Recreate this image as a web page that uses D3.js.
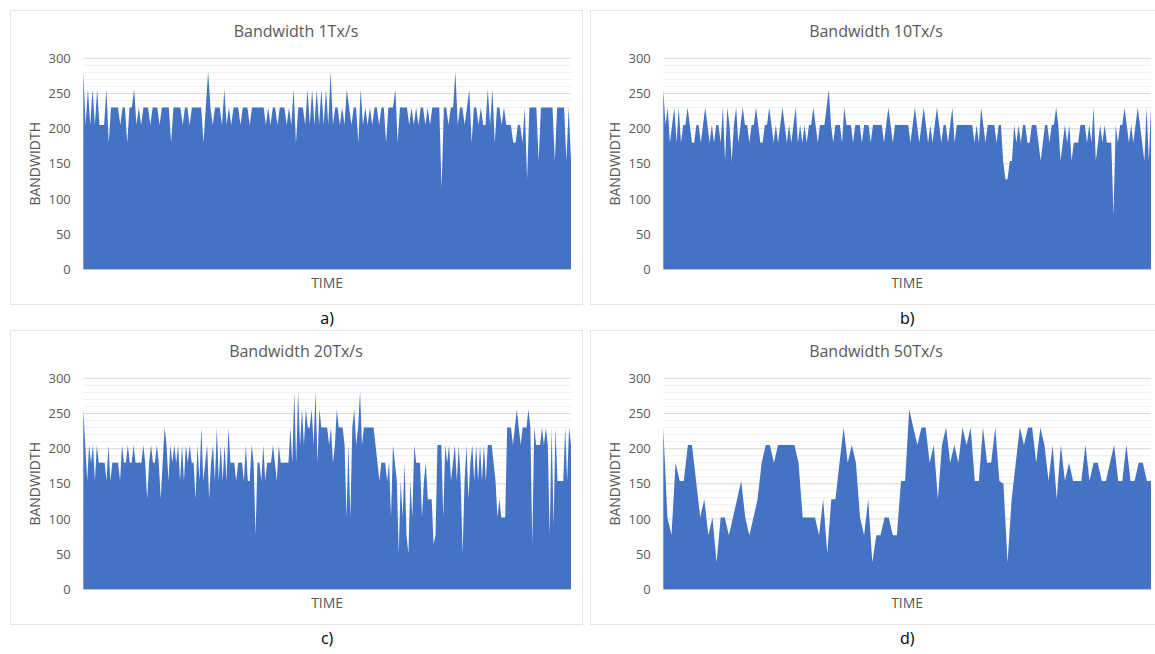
<!DOCTYPE html>
<html>
<head>
<meta charset="utf-8">
<script src="https://cdn.jsdelivr.net/npm/d3@7"></script>
<style>
  body { margin: 0; background: #fff; }
  text { font-family: "Open Sans", sans-serif; }
</style>
</head>
<body>
<div id="chart-container"></div>
<script>
// Bandwidth samples (one value per time step)
const bw1 = [
  281,205,256,205,256,205,256,205,205,205, 256,180,230,230,230,230,205,230,230,180,
  230,230,256,205,230,205,230,230,230,205, 230,230,230,205,230,230,230,230,180,230,
  230,230,230,205,230,230,205,230,230, 230,230,230,180,230,281,230,205,230,230,
  230,205,256,205,230,205,230,230,230,205, 230,230,230,205,230,230,230,230,230,
  230,205,230,205,230,230,205,230,230,230, 205,230,205,256,180,230,230,230,205,256,
  205,256,205,256,205,256,205,256,205,281, 205,230,230,205,230,205,256,230,205,230,
  230,180,256,205,230,205,230,205,230,230, 205,230,230,180,230,230,230,256,180,230,
  230,230,230,205,230,205,230,205,230,230, 205,230,205,230,230,230,230,115,230,230,
  205,230,230,281,205,230,230,205,230,256, 180,230,230,205,230,205,205,256,205,256,
  180,230,230,205,230,205,205,205,180,180, 205,205,180,230,128,230,230,230,230,154,
  230,230,230,230,230,230,154,230,230,230, 230,154,230,154
];
const bw10 = [
  256,205,230,180,205,230,180,230,180,205, 205,230,205,180,180,205,205,180,205,230,
  205,180,205,180,205,205,180,230,154,230, 205,154,205,230,180,205,230,205,205,180,
  205,205,230,205,180,180,205,205,230,205, 180,205,180,205,230,205,180,205,180,205,
  230,180,205,180,205,180,205,205,230,205, 180,205,205,205,230,256,205,180,205,205,
  205,180,230,205,205,205,180,205,205,205, 180,205,205,205,180,205,205,205,205,205,
  180,205,230,205,180,205,205,205,205,205, 205,205,180,205,230,205,180,205,230,205,
  180,205,180,205,230,205,180,205,205,180, 205,230,180,205,205,205,205,205,205,205,
  205,180,205,180,230,205,180,205,205,205, 205,180,205,205,154,128,128,154,154,205,
  180,205,180,205,205,180,180,205,205,205, 180,154,180,205,205,180,205,205,230,205,
  154,180,205,180,205,154,180,180,180,205, 205,205,180,205,180,230,154,180,205,180,
  205,180,180,180,77,205,180,205,205,230, 205,180,205,180,205,230,205,180,154,230,
  154,230
];
const bw20 = [
  256,205,154,205,180,205,154,205,180,180, 180,180,154,205,154,180,180,180,180,154,
  205,180,180,205,180,180,205,180,180,180, 180,205,180,128,180,205,180,180,205,180,
  128,180,230,205,154,205,180,205,180,205, 154,205,154,205,180,205,180,180,128,205,
  154,230,154,180,205,128,180,205,154,230, 154,205,154,205,154,230,180,180,180,154,
  180,180,180,154,205,154,154,205,180,77, 180,180,154,205,154,180,180,180,205,180,
  154,205,180,180,180,180,180,230,180,281, 180,281,205,256,205,256,230,230,256,205,
  281,180,256,230,230,230,230,205,230,180,
  205,256,230,230,230,205,102,205,102,230, 256,205,230,281,205,230,230,230,230,230,
  230,205,180,154,180,180,180,154,180,102, 205,180,154,51,154,102,180,77,51,154,
  102,205,180,180,180,102,154,180,128,128, 128,64,77,205,205,205,102,205,180,205,
  154,180,205,154,205,154,51,154,205,128, 180,205,154,205,154,205,154,205,154,205,
  205,205,180,154,102,128,102,102,102,230, 230,230,205,230,256,230,205,230,230,230,
  256,230,64,230,205,205,205,230,205,230, 205,77,230,90,230,154,154,154,154,230,
  154,230,205
];
const bw50 = [
  230,102,77,180,154,154,205,205,154,102, 128,77,102,38,102,102,77,102,128,154,
  102,77,102,128,180,205,205,180,205,205, 205,205,205,180,102,102,102,102,77,128,
  51,128,128,180,230,180,205,180,102,77, 128,38,77,77,102,102,77,77,154,154,
  256,230,205,230,230,180,205,128,205,230, 180,205,180,230,205,230,154,154,230,180,
  180,230,154,150,38,128,180,230,205,230, 230,180,230,205,154,205,128,205,154,180,
  154,154,154,205,154,180,180,154,154,180, 205,154,154,205,154,154,180,180,154,154
];

const titles = ["Bandwidth 1Tx/s", "Bandwidth 10Tx/s", "Bandwidth 20Tx/s", "Bandwidth 50Tx/s"];
const letters = ["a)", "b)", "c)", "d)"];
const yTicks = [0, 50, 100, 150, 200, 250, 300];

(() => {
  const svg = d3.select("#chart-container")
    .append("svg")
    .attr("width", 1155)
    .attr("height", 654);

  const series = [bw1, bw10, bw20, bw50];
  const panelW = 572, panelH = 294;
  // plot area inside each panel
  const margin = { top: 48.3, right: 11, bottom: 34.7, left: 73.3 };
  const width = panelW - margin.left - margin.right;
  const height = panelH - margin.top - margin.bottom;

  series.forEach((data, k) => {
    const px = 10 + (k % 2) * 580;
    const py = 10 + Math.floor(k / 2) * 320;

    const panel = svg.append("g").attr("transform", `translate(${px},${py})`);

    panel.append("rect")
      .attr("x", 0.5).attr("y", 0.5)
      .attr("width", panelW).attr("height", panelH)
      .attr("fill", "#fff")
      .attr("stroke", "#e6e6e6");

    const x = d3.scaleLinear().domain([0, data.length - 1]).range([0, width]);
    const y = d3.scaleLinear().domain([0, 300]).range([height, 0]);

    const g = panel.append("g").attr("transform", `translate(${margin.left},${margin.top})`);

    // minor gridlines every 10, major every 50
    g.selectAll(".minor")
      .data(d3.range(10, 301, 10).filter(v => v % 50 !== 0))
      .enter().append("line")
      .attr("x1", 0).attr("x2", width)
      .attr("y1", d => y(d)).attr("y2", d => y(d))
      .attr("stroke", "#f0f0f0");

    g.selectAll(".major")
      .data(yTicks)
      .enter().append("line")
      .attr("x1", 0).attr("x2", width)
      .attr("y1", d => y(d)).attr("y2", d => y(d))
      .attr("stroke", "#d9d9d9");

    const area = d3.area()
      .x((d, i) => x(i))
      .y0(y(0))
      .y1(d => y(d));

    g.append("path")
      .datum(data)
      .attr("d", area)
      .attr("fill", "#4472C4");

    // y tick labels
    g.selectAll(".tick")
      .data(yTicks)
      .enter().append("text")
      .attr("x", -12.5)
      .attr("y", d => y(d))
      .attr("dy", "0.36em")
      .attr("text-anchor", "end")
      .style("font-size", "13px")
      .attr("fill", "#595959")
      .text(d => d);

    panel.append("text")
      .attr("x", panelW / 2)
      .attr("y", 27)
      .attr("text-anchor", "middle")
      .style("font-size", "16px")
      .attr("fill", "#595959")
      .text(titles[k]);

    g.append("text")
      .attr("x", width / 2)
      .attr("y", height + 18.5)
      .attr("text-anchor", "middle")
      .style("font-size", "14px")
      .attr("fill", "#595959")
      .text("TIME");

    g.append("text")
      .attr("transform", `translate(${-48.3},${height / 2}) rotate(-90)`)
      .attr("dy", "0.35em")
      .attr("text-anchor", "middle")
      .style("font-size", "14px")
      .attr("fill", "#595959")
      .text("BANDWIDTH");

    g.append("text")
      .attr("x", width / 2)
      .attr("y", height + 55)
      .attr("text-anchor", "middle")
      .style("font-size", "16px")
      .attr("fill", "#000")
      .text(letters[k]);
  });
})();
</script>
</body>
</html>
